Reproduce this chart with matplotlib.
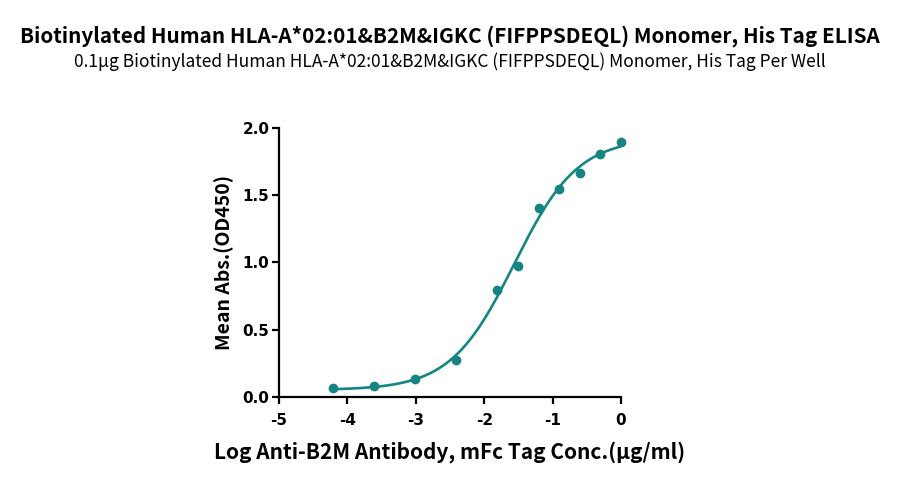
import numpy as np
import matplotlib
matplotlib.use('Agg')
import matplotlib.pyplot as plt

# log concentration (ug/ml) and mean OD450
log_conc = np.array([-4.21, -3.61, -3.01, -2.41, -1.81, -1.51, -1.20, -0.90, -0.60, -0.30, 0.0])
od450 = np.array([0.063, 0.077, 0.13, 0.276, 0.795, 0.974, 1.404, 1.55, 1.665, 1.81, 1.896])

title = 'Biotinylated Human HLA-A*02:01&B2M&IGKC (FIFPPSDEQL) Monomer, His Tag ELISA'
subtitle = '0.1\u03bcg Biotinylated Human HLA-A*02:01&B2M&IGKC (FIFPPSDEQL) Monomer, His Tag Per Well'
xlabel = 'Log Anti-B2M Antibody, mFc Tag Conc.(\u03bcg/ml)'
ylabel = 'Mean Abs.(OD450)'
teal = '#148583'


def four_pl(x, p):
    bottom, top, logec50, hill = p
    return bottom + (top - bottom) / (1 + 10 ** ((logec50 - x) * hill))


# simple Gauss-Newton fit of a 4PL curve
p = np.array([0.05, 2.0, -1.6, 1.0])
for _ in range(200):
    r = od450 - four_pl(log_conc, p)
    J = np.zeros((len(log_conc), 4))
    for k in range(4):
        dp = np.zeros(4)
        dp[k] = 1e-6
        J[:, k] = (four_pl(log_conc, p + dp) - four_pl(log_conc, p)) / 1e-6
    step = np.linalg.lstsq(J, r, rcond=None)[0]
    p = p + 0.5 * step

xs = np.linspace(log_conc.min(), log_conc.max(), 300)

fig = plt.figure(figsize=(9, 4.86), dpi=100)
ax = fig.add_axes([0.310, 0.184, 0.380, 0.552])

ax.plot(xs, four_pl(xs, p), color=teal, lw=1.9, zorder=2)
ax.plot(log_conc, od450, 'o', color=teal, ms=6, zorder=3, clip_on=False)

ax.set_xlim(-5, 0)
ax.set_ylim(0, 2.0)
ax.set_xticks([-5, -4, -3, -2, -1, 0])
ax.set_xticklabels(['-5', '-4', '-3', '-2', '-1', '0'])
ax.set_yticks([0, 0.5, 1.0, 1.5, 2.0])
ax.set_yticklabels(['0.0', '0.5', '1.0', '1.5', '2.0'])

for s in ['top', 'right']:
    ax.spines[s].set_visible(False)
for s in ['left', 'bottom']:
    ax.spines[s].set_linewidth(1.6)

ax.tick_params(axis='both', direction='out', length=5, width=1.6, labelsize=11)
ax.tick_params(axis='x', pad=7)
ax.tick_params(axis='y', pad=2)
for lab in ax.get_xticklabels() + ax.get_yticklabels():
    lab.set_fontweight('bold')
    lab.set_family('DejaVu Sans')

ax.set_xlabel(xlabel, family=['Noto Sans CJK SC', 'DejaVu Sans'], fontsize=15, fontweight='bold', labelpad=9)
ax.set_ylabel(ylabel, family=['Noto Sans CJK SC', 'DejaVu Sans'], fontsize=14, fontweight='bold', labelpad=6)

fig.text(0.5, 0.926, title, ha='center', va='center', family=['Noto Sans CJK SC', 'DejaVu Sans'],
         fontsize=14.9, fontweight='bold')
fig.text(0.5, 0.874, subtitle, ha='center', va='center', family=['Noto Sans CJK SC', 'DejaVu Sans'],
         fontsize=12.5)

fig.savefig('out.png', dpi=100)
